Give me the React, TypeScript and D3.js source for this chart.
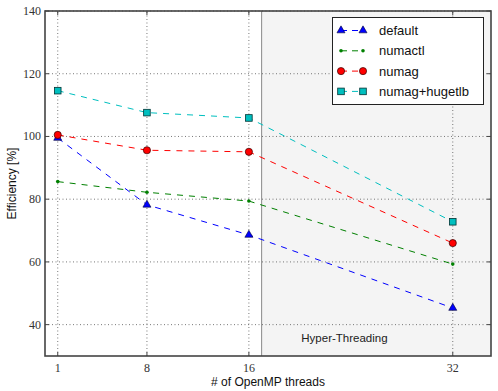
import React, { useEffect, useRef } from 'react';
import * as d3 from 'd3';

const threads = [1, 8, 16, 32];
const seriesNames = ['default', 'numactl', 'numag', 'numag+hugetlb'];
const defaultVals = [99.5, 78.2, 68.6, 45.3];
const numactlVals = [85.6, 82.2, 79.4, 59.3];
const numagVals = [100.5, 95.6, 95.1, 66.0];
const hugetlbVals = [114.6, 107.6, 105.9, 72.8];
const yTicks = [40, 60, 80, 100, 120, 140];
const htStart = 17;

const colors = ['#0000ff', '#008000', '#ff0000', '#00bfbf'];
const markers = ['triangle', 'dot', 'circle', 'square'];

const W = 498;
const H = 391;
const margin = { top: 11, right: 7, bottom: 35, left: 45 };

const App = () => {
  const svgRef = useRef<SVGSVGElement | null>(null);

  useEffect(() => {
    const svg = d3.select(svgRef.current).attr('width', W).attr('height', H);
    svg.selectAll('*').remove();

    const x = d3.scaleLinear().domain([0, 35]).range([margin.left, W - margin.right]);
    const y = d3.scaleLinear().domain([30, 140]).range([H - margin.bottom, margin.top]);
    const [x0, x1] = x.range();
    const [y0, y1] = y.range();

    svg.append('rect').attr('width', W).attr('height', H).attr('fill', '#fff');

    // hyper-threading region
    svg.append('rect')
      .attr('x', x(htStart)).attr('y', y1)
      .attr('width', x1 - x(htStart)).attr('height', y0 - y1)
      .attr('fill', '#f4f4f4');
    svg.append('line')
      .attr('x1', x(htStart)).attr('x2', x(htStart)).attr('y1', y1).attr('y2', y0)
      .attr('stroke', '#888').attr('stroke-width', 1);
    svg.append('text')
      .attr('x', x(23.5)).attr('y', y(34.5))
      .attr('text-anchor', 'middle')
      .style('font-family', 'Liberation Sans, Arial, sans-serif')
      .style('font-size', '11.5px').attr('fill', '#222')
      .text('Hyper-Threading');

    // grid
    const grid = svg.append('g').attr('stroke', '#555').attr('stroke-width', 0.8).attr('stroke-dasharray', '1,2.5');
    threads.forEach(t => grid.append('line').attr('x1', x(t)).attr('x2', x(t)).attr('y1', y0).attr('y2', y1));
    yTicks.forEach(v => grid.append('line').attr('x1', x0).attr('x2', x1).attr('y1', y(v)).attr('y2', y(v)));

    // ticks
    const tk = svg.append('g').attr('stroke', '#444').attr('stroke-width', 1);
    threads.forEach(t => {
      tk.append('line').attr('x1', x(t)).attr('x2', x(t)).attr('y1', y0).attr('y2', y0 - 4);
      tk.append('line').attr('x1', x(t)).attr('x2', x(t)).attr('y1', y1).attr('y2', y1 + 4);
    });
    yTicks.forEach(v => {
      tk.append('line').attr('x1', x0).attr('x2', x0 + 4).attr('y1', y(v)).attr('y2', y(v));
      tk.append('line').attr('x1', x1).attr('x2', x1 - 4).attr('y1', y(v)).attr('y2', y(v));
    });

    const serif = 'Liberation Serif, DejaVu Serif, serif';
    svg.append('g').selectAll('text').data(threads).enter().append('text')
      .attr('x', d => x(d)).attr('y', y0 + 16)
      .attr('text-anchor', 'middle')
      .style('font-family', serif).style('font-size', '12px').attr('fill', '#333')
      .text(d => d);
    svg.append('g').selectAll('text').data(yTicks).enter().append('text')
      .attr('x', x0 - 4).attr('y', d => y(d) + 4)
      .attr('text-anchor', 'end')
      .style('font-family', serif).style('font-size', '12px').attr('fill', '#333')
      .text(d => d);

    // frame
    svg.append('rect')
      .attr('x', x0).attr('y', y1).attr('width', x1 - x0).attr('height', y0 - y1)
      .attr('fill', 'none').attr('stroke', '#444').attr('stroke-width', 1.6);

    const sans = 'Liberation Sans, Arial, sans-serif';
    svg.append('text')
      .attr('x', (x0 + x1) / 2).attr('y', H - 5)
      .attr('text-anchor', 'middle')
      .style('font-family', sans).style('font-size', '12px').attr('fill', '#111')
      .text('# of OpenMP threads');
    svg.append('text')
      .attr('transform', `translate(16, ${(y0 + y1) / 2}) rotate(-90)`)
      .attr('text-anchor', 'middle')
      .style('font-family', sans).style('font-size', '12px').attr('fill', '#111')
      .text('Efficiency [%]');

    const drawMarker = (g: any, kind: string, cx: number, cy: number, color: string) => {
      if (kind === 'triangle') {
        g.append('path')
          .attr('d', d3.symbol().type(d3.symbolTriangle).size(28)())
          .attr('transform', `translate(${cx},${cy})`)
          .attr('fill', color).attr('stroke', '#000030').attr('stroke-width', 0.6);
      } else if (kind === 'dot') {
        g.append('circle').attr('cx', cx).attr('cy', cy).attr('r', 1.8).attr('fill', color);
      } else if (kind === 'circle') {
        g.append('circle').attr('cx', cx).attr('cy', cy).attr('r', 3.6)
          .attr('fill', color).attr('stroke', '#300').attr('stroke-width', 0.7);
      } else {
        g.append('rect').attr('x', cx - 3.3).attr('y', cy - 3.3).attr('width', 6.6).attr('height', 6.6)
          .attr('fill', color).attr('stroke', '#033').attr('stroke-width', 0.8);
      }
    };

    const allSeries = [defaultVals, numactlVals, numagVals, hugetlbVals];
    const line = d3.line<number>().x((_, i) => x(threads[i])).y(d => y(d));
    allSeries.forEach((vals, si) => {
      const g = svg.append('g');
      g.append('path').attr('d', line(vals))
        .attr('fill', 'none').attr('stroke', colors[si]).attr('stroke-width', 1)
        .attr('stroke-dasharray', '6,6');
      vals.forEach((v, i) => drawMarker(g, markers[si], x(threads[i]), y(v), colors[si]));
    });

    // legend
    const lg = svg.append('g');
    lg.append('rect').attr('x', 332.5).attr('y', 17.5).attr('width', 151).attr('height', 87)
      .attr('fill', '#fff').attr('stroke', '#222').attr('stroke-width', 1);
    seriesNames.forEach((name, i) => {
      const ly = 30.5 + i * 20.3;
      lg.append('line').attr('x1', 341).attr('x2', 363).attr('y1', ly).attr('y2', ly)
        .attr('stroke', colors[i]).attr('stroke-width', 1).attr('stroke-dasharray', '6,5');
      drawMarker(lg, markers[i], 341, ly, colors[i]);
      drawMarker(lg, markers[i], 363, ly, colors[i]);
      lg.append('text').attr('x', 379).attr('y', ly + 4.5)
        .style('font-family', sans).style('font-size', '13px').attr('fill', '#111')
        .text(name);
    });
  }, []);

  return (
    <div style={{ position: 'absolute', left: 0, top: 0 }}>
      <svg ref={svgRef} style={{ display: 'block' }}></svg>
    </div>
  );
};

export default App;
